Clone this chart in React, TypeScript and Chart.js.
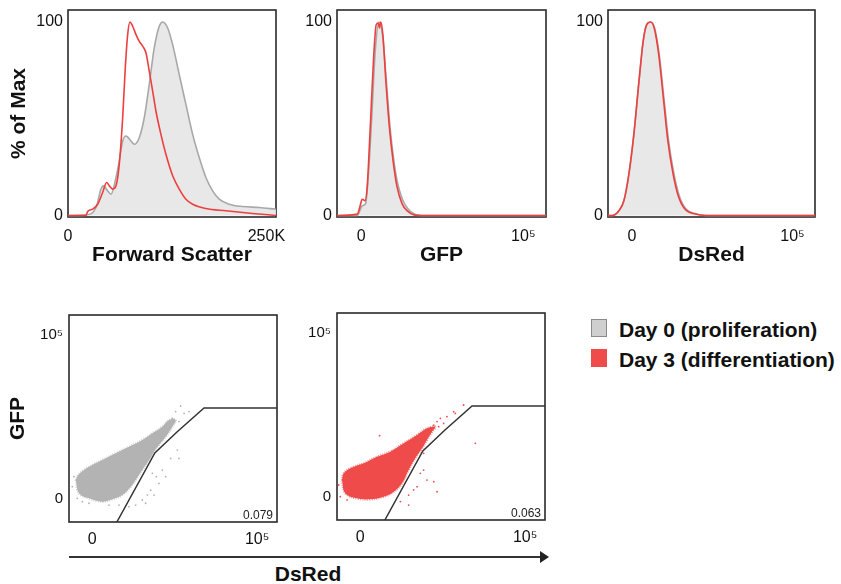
import React, { useEffect, useRef } from 'react';
import { Chart, registerables } from 'chart.js';

Chart.register(...registerables);

const FONT = "'Liberation Sans', Arial, Helvetica, sans-serif";
const RED_LINE = '#ee3f3f';
const GRAY_LINE = '#a8a8a8';
const GRAY_FILL = '#e8e8e8';
const CLOUD_GRAY = '#b3b3b3';
const CLOUD_RED = '#ef4b4b';

// ---------- Histogram data: [x, % of max] ----------
// Forward scatter, x in K units
const fscDay0: [number, number][] = [
  [0, 0], [22.7, 0.3], [35.3, 4.1], [41.6, 13.6], [44.5, 15.3], [50.0, 12.7], [54.2, 11.0],
  [60.5, 19.6], [64.6, 28.2], [68.9, 38.5], [73.1, 41.1], [79.4, 38.5], [83.5, 36.8],
  [89.8, 40.2], [96.1, 50.5], [102.4, 67.7], [108.7, 86.6], [115.0, 97.8], [119.3, 100],
  [125.6, 96.9], [131.9, 88.3], [140.2, 72.8], [148.6, 57.4], [157.1, 41.9], [165.4, 29.9],
  [173.8, 19.6], [182.3, 12.7], [190.6, 8.4], [203.2, 5.8], [220.0, 4.6], [241.0, 4.1], [262, 3.2],
];
const fscDay3: [number, number][] = [
  [0, 0], [22.7, 0], [24.8, 2.1], [31.1, 3.3], [37.4, 5.8], [43.7, 11.9], [48.7, 17.0],
  [52.1, 15.3], [56.3, 13.6], [60.5, 15.3], [64.6, 26.4], [68.9, 50.5], [72.2, 76.3],
  [75.2, 93.5], [78.1, 100], [81.5, 97.8], [85.7, 93.5], [89.8, 90.0], [94.1, 87.5],
  [98.3, 84.0], [102.4, 74.6], [106.7, 64.3], [110.8, 54.0], [117.1, 41.9], [123.4, 31.6],
  [131.9, 20.5], [140.2, 13.6], [148.6, 8.4], [157.1, 5.8], [173.8, 3.6], [199.0, 2.4],
  [232.6, 1.0], [262, 0],
];
// GFP, x in display units (0 -> "0", 100 -> 10^5)
const gfpDay0: [number, number][] = [
  [-15, 0], [-2.4, 0], [-1.4, 1.5], [0.6, 5.0], [2.6, 6.0], [4.4, 21.3], [6.4, 50],
  [8.6, 85], [10.9, 100], [13.3, 92], [15.6, 68], [17.8, 45], [20.0, 29],
  [22.2, 17.5], [25.3, 8.5], [28.6, 3.6], [32.7, 0.8], [39, 0], [114, 0],
];
const gfpDay3: [number, number][] = [
  [-15, 0], [-2.4, 0.7], [-1.0, 4.1], [0.6, 8.4], [2.3, 7.6], [3.6, 14.4], [5.5, 45],
  [7.5, 80], [9.2, 98.6], [10.5, 99.5], [11.2, 96.9], [12.0, 100], [13.3, 93.5],
  [15.2, 69], [17.4, 45], [19.5, 29], [22.0, 15], [25.2, 6], [28.4, 2.4],
  [32.5, 0.3], [36.5, 0], [114, 0],
];
// DsRed
const dsredDay0: [number, number][] = [
  [-15, 0], [-12.3, 0], [-8.1, 2.6], [-5.0, 7.9], [-1.9, 21.8], [1.2, 42.5], [4.4, 70],
  [7.0, 90.5], [9.2, 98.8], [11.6, 100], [14.0, 97], [16.9, 83.5], [20.0, 59.5],
  [22.7, 39], [26.0, 22], [29.3, 10.5], [33.5, 3.5], [40, 0.8], [47, 0], [114, 0],
];
const dsredDay3: [number, number][] = [
  [-15, 0], [-12.4, 0], [-8.2, 2.4], [-5.1, 7.6], [-2.0, 21.3], [1.1, 41.9], [4.3, 69.4],
  [6.9, 90.0], [9.1, 98.6], [11.5, 100], [13.8, 96.9], [16.6, 83.2], [19.7, 59.1],
  [22.3, 38.5], [25.6, 21.3], [28.8, 10.1], [33, 3.2], [39.5, 0.7], [46, 0], [114, 0],
];

// ---------- Dot plot data: [DsRed, GFP] in display units ----------
const cloudDay0: [number, number][] = [
  [-9.9, 11.6], [-7.9, 3.5], [-1.9, 0.4], [6.2, -1.6], [12.2, -0.2], [18.3, 2.4], [23.4, 7.5],
  [26.4, 11.6], [30.4, 17.7], [34.5, 23.7], [37.5, 28.8], [40.5, 32.9], [44.6, 37.9],
  [48.6, 44.0], [50.6, 48.1], [46.6, 48.1], [42.5, 44.0], [36.5, 40.0], [30.4, 35.9],
  [22.3, 31.8], [14.3, 27.8], [6.2, 23.7], [0.1, 20.7], [-4.9, 17.7], [-8.4, 14.6], [-9.9, 11.6],
];
const cloudDay3: [number, number][] = [
  [-11.0, 10.3], [-9.0, 2.3], [-1.9, -0.8], [6.2, -1.4], [14.3, 0.2], [20.4, 3.2], [25.4, 8.3],
  [29.4, 16.4], [33.4, 23.6], [37.5, 29.6], [40.5, 34.7], [43.6, 39.7], [45.5, 42.8],
  [40.5, 41.8], [34.5, 37.7], [26.4, 32.7], [18.3, 27.6], [10.2, 24.5], [2.2, 20.5],
  [-5.9, 17.5], [-9.9, 14.4], [-11.0, 10.3],
];
const sparseDay0: [number, number][] = [
  [53.6, 56.6], [50.6, 53.2], [55.7, 52.1], [48.6, 49.1], [46.6, 47.1], [52.6, 47.1],
  [44.6, 44.0], [51.6, 29.8], [47.6, 24.7], [52.6, 24.7], [42.5, 17.6], [38.9, 13.6],
  [40.5, 9.5], [35.5, 5.4], [33.5, 2.4], [37.5, 2.4], [30.4, -0.6], [26.4, -3.7],
  [44.6, 13.6], [36.5, 15.6], [-11.0, 13.6], [-12.0, 7.5], [-9.0, 0.4], [22.3, -4.7],
  [16.3, -3.7], [10.2, -3.7], [-1.9, -2.6], [-5.9, -1.6], [58.7, 53.2], [32.4, -2.6],
];
const sparseDay3: [number, number][] = [
  [62.7, 56.0], [56.7, 51.9], [52.6, 48.9], [48.6, 47.9], [46.6, 45.9], [50.6, 44.8],
  [44.6, 43.8], [69.8, 32.7], [11.8, 37.3], [38.5, 16.4], [36.5, 14.4], [40.5, 10.3],
  [44.6, 9.3], [34.5, 6.3], [46.6, 3.2], [29.4, 1.2], [29.4, -4.9], [24.4, -2.8],
  [-13.0, 7.3], [-12.0, 0.2], [-7.9, -1.8], [38.5, 26.6], [42.5, 41.8], [47.6, 42.8],
  [57.7, 50.9], [32.4, 4.3],
];
const gate: [number, number][] = [[15, -14], [38, 28], [51.4, 40.8], [67.8, 55.4], [112, 55.4]];
const gatePercents = ['0.079', '0.063'];

// ---------- Tick values and labels ----------
const pctTicks = [0, 100];
const pctLabels = ['0', '100'];
const fscTicks = [0, 250];
const fscLabels = ['0', '250K'];
const logTicks = [0, 100];
const logLabels = ['0', '10⁵'];
const legendLabels = ['Day 0 (proliferation)', 'Day 3 (differentiation)'];

const toXY = (arr: [number, number][]) => arr.map(([x, y]) => ({ x, y }));

const framePlugin = {
  id: 'frame',
  beforeDatasetsDraw(chart: any) {
    const { ctx, chartArea: a } = chart;
    ctx.save();
    ctx.strokeStyle = '#2a2a2a';
    ctx.lineWidth = 1.6;
    ctx.strokeRect(a.left, a.top, a.right - a.left, a.bottom - a.top);
    ctx.restore();
  },
};

function percentPlugin(text: string) {
  return {
    id: 'pct',
    afterDraw(chart: any) {
      const { ctx, chartArea: a } = chart;
      ctx.save();
      ctx.font = `12px ${FONT}`;
      ctx.fillStyle = '#222';
      ctx.textAlign = 'right';
      ctx.textBaseline = 'middle';
      ctx.fillText(text, a.right - 4, a.bottom - 6.5);
      ctx.restore();
    },
  };
}

function makeAxis(o: {
  min: number; max: number; ticks: number[]; labels: string[]; size: number; gap: number;
  fontSize: number; title?: string; titlePad?: any;
}) {
  return {
    type: 'linear',
    min: o.min,
    max: o.max,
    afterBuildTicks: (scale: any) => {
      scale.ticks = o.ticks.map((v) => ({ value: v }));
    },
    afterFit: (scale: any) => {
      if (scale.isHorizontal()) scale.height = o.size;
      else scale.width = o.size;
      scale.paddingLeft = 0;
      scale.paddingRight = 0;
      scale.paddingTop = 0;
      scale.paddingBottom = 0;
    },
    grid: { display: false, drawTicks: false },
    border: { display: false },
    ticks: {
      autoSkip: false,
      padding: o.gap,
      maxRotation: 0,
      minRotation: 0,
      color: '#111',
      font: { family: FONT, size: o.fontSize },
      callback: (v: any) => {
        const i = o.ticks.indexOf(Number(v));
        return i >= 0 ? o.labels[i] : '';
      },
    },
    title: o.title
      ? {
          display: true,
          text: o.title,
          color: '#111',
          font: { family: FONT, size: 21, weight: 'bold' },
          padding: o.titlePad,
        }
      : { display: false },
  };
}

function histConfig(o: {
  day0: [number, number][]; day3: [number, number][]; xmin: number; xmax: number;
  xticks: number[]; xlabels: string[]; ySize: number; padRight: number; xTitle: string; yTitle?: string;
}) {
  return {
    type: 'line',
    data: {
      datasets: [
        {
          data: toXY(o.day3), borderColor: RED_LINE, borderWidth: 1.6, pointRadius: 0,
          fill: false, cubicInterpolationMode: 'monotone',
        },
        {
          data: toXY(o.day0), borderColor: GRAY_LINE, backgroundColor: GRAY_FILL, borderWidth: 1.6,
          pointRadius: 0, fill: 'origin', cubicInterpolationMode: 'monotone',
        },
      ],
    },
    options: {
      responsive: false,
      animation: false,
      layout: { padding: { left: 0, right: o.padRight, top: 10, bottom: 0 } },
      plugins: { legend: { display: false }, tooltip: { enabled: false } },
      scales: {
        x: makeAxis({
          min: o.xmin, max: o.xmax, ticks: o.xticks, labels: o.xlabels, size: 55, gap: 10,
          fontSize: 16, title: o.xTitle, titlePad: { top: 0, bottom: 4 },
        }),
        y: makeAxis({
          min: -0.8, max: 106.2, ticks: pctTicks, labels: pctLabels, size: o.ySize, gap: 5,
          fontSize: 16, title: o.yTitle, titlePad: { top: 6.4, bottom: 0 },
        }),
      },
    },
    plugins: [framePlugin],
  };
}

function dotConfig(o: {
  cloud: [number, number][]; sparse: [number, number][]; color: string; edge: string;
  pct: string; ySize: number; xSize: number; padRight: number; padTop: number; yTitle?: string;
}) {
  return {
    type: 'scatter',
    data: {
      datasets: [
        {
          data: toXY(gate), showLine: true, borderColor: '#333', borderWidth: 1.5, pointRadius: 0,
          tension: 0, fill: false,
        },
        {
          data: toXY(o.sparse), showLine: false, pointRadius: 0.9, pointBorderWidth: 0,
          pointBackgroundColor: o.color,
        },
        {
          data: toXY(o.cloud), showLine: true, fill: 'shape', backgroundColor: o.color,
          borderColor: o.edge, borderWidth: 2.5, borderDash: [1, 1.3], tension: 0.4, pointRadius: 0,
        },
      ],
    },
    options: {
      responsive: false,
      animation: false,
      layout: { padding: { left: 0, right: o.padRight, top: o.padTop, bottom: 0 } },
      plugins: { legend: { display: false }, tooltip: { enabled: false } },
      scales: {
        x: makeAxis({
          min: -14, max: 112, ticks: logTicks, labels: logLabels, size: o.xSize, gap: 8, fontSize: 16,
        }),
        y: makeAxis({
          min: -14, max: 112, ticks: logTicks, labels: logLabels, size: o.ySize, gap: 6, fontSize: 15,
          title: o.yTitle, titlePad: { top: 5.4, bottom: 0 },
        }),
      },
    },
    plugins: [framePlugin, percentPlugin(o.pct)],
  };
}

function ChartBox(props: { left: number; top: number; width: number; height: number; build: () => any }) {
  const ref = useRef<HTMLCanvasElement>(null);
  useEffect(() => {
    const chart = new Chart(ref.current as HTMLCanvasElement, props.build());
    return () => chart.destroy();
  }, []);
  return (
    <div style={{ position: 'absolute', left: props.left, top: props.top, width: props.width, height: props.height }}>
      <canvas ref={ref} width={props.width} height={props.height} style={{ display: 'block' }} />
    </div>
  );
}

export default function App() {
  const textStyle: React.CSSProperties = {
    position: 'absolute', fontFamily: FONT, fontWeight: 'bold', fontSize: 21, lineHeight: '24px',
    color: '#111', whiteSpace: 'nowrap',
  };
  return (
    <div style={{ position: 'absolute', left: 0, top: 0, width: 841, height: 584, background: '#fff', overflow: 'hidden' }}>
      <ChartBox left={0} top={0} width={290} height={272} build={() => histConfig({
        day0: fscDay0, day3: fscDay3, xmin: 0, xmax: 262.144, xticks: fscTicks, xlabels: fscLabels,
        ySize: 68, padRight: 14, xTitle: 'Forward Scatter', yTitle: '% of Max',
      })} />
      <ChartBox left={290} top={0} width={270} height={272} build={() => histConfig({
        day0: gfpDay0, day3: gfpDay3, xmin: -15, xmax: 114, xticks: logTicks, xlabels: logLabels,
        ySize: 47, padRight: 14, xTitle: 'GFP',
      })} />
      <ChartBox left={560} top={0} width={281} height={272} build={() => histConfig({
        day0: dsredDay0, day3: dsredDay3, xmin: -15, xmax: 114, xticks: logTicks, xlabels: logLabels,
        ySize: 48, padRight: 26, xTitle: 'DsRed',
      })} />
      <ChartBox left={0} top={290} width={290} height={260} build={() => dotConfig({
        cloud: cloudDay0, sparse: sparseDay0, color: CLOUD_GRAY, edge: 'rgba(179,179,179,0.6)',
        pct: gatePercents[0], ySize: 69, xSize: 28, padRight: 13, padTop: 25, yTitle: 'GFP',
      })} />
      <ChartBox left={290} top={290} width={270} height={260} build={() => dotConfig({
        cloud: cloudDay3, sparse: sparseDay3, color: CLOUD_RED, edge: 'rgba(239,75,75,0.6)',
        pct: gatePercents[1], ySize: 47, xSize: 30, padRight: 15, padTop: 23,
      })} />

      {/* legend */}
      <div style={{ position: 'absolute', left: 591, top: 319, width: 16, height: 18, background: '#cfcfcf', border: '1.5px solid #8a8a8a', boxSizing: 'border-box' }} />
      <div style={{ ...textStyle, left: 619, top: 318 }}>{legendLabels[0]}</div>
      <div style={{ position: 'absolute', left: 591, top: 349, width: 16, height: 18, background: '#f04b4b', boxSizing: 'border-box' }} />
      <div style={{ ...textStyle, left: 619, top: 348 }}>{legendLabels[1]}</div>

      {/* shared DsRed arrow */}
      <div style={{ position: 'absolute', left: 69, top: 556, width: 473, height: 1.6, background: '#333' }} />
      <div style={{ position: 'absolute', left: 540, top: 551, width: 0, height: 0, borderLeft: '9px solid #222', borderTop: '6px solid transparent', borderBottom: '6px solid transparent' }} />
      <div style={{ ...textStyle, left: 258, width: 100, textAlign: 'center', top: 562 }}>DsRed</div>
    </div>
  );
}
